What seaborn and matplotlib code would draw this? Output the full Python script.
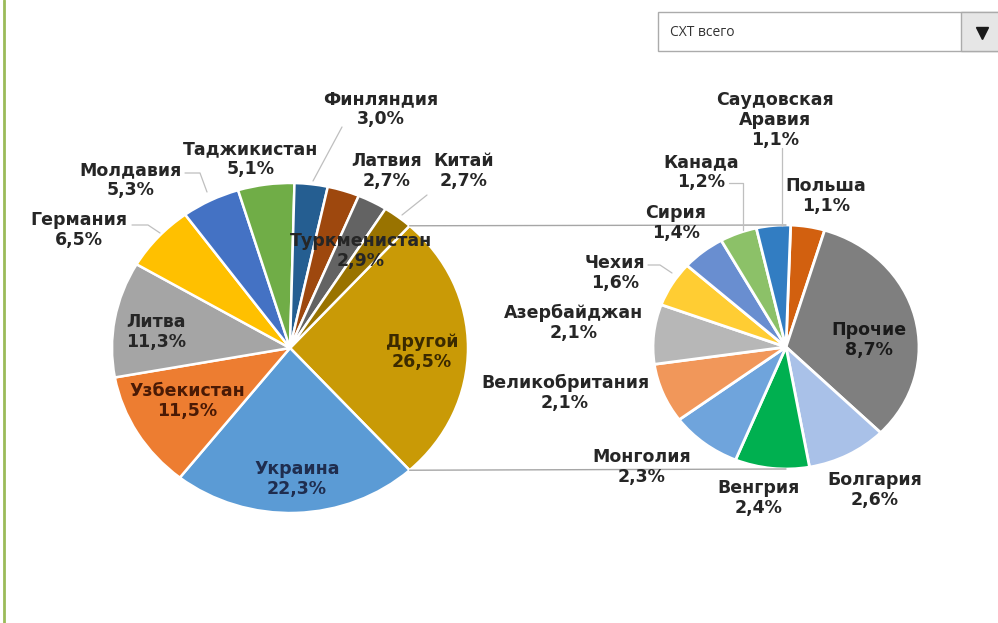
import matplotlib
matplotlib.use("Agg")
import matplotlib.pyplot as plt
import numpy as np
import seaborn as sns

# data
main_labels = ["Другой", "Украина", "Узбекистан", "Литва", "Германия", "Молдавия",
               "Таджикистан", "Финляндия", "Туркменистан", "Латвия", "Китай"]
main_values = [26.5, 22.3, 11.5, 11.3, 6.5, 5.3, 5.1, 3.0, 2.9, 2.7, 2.7]
sub_labels = ["Польша", "Прочие", "Болгария", "Венгрия", "Монголия", "Великобритания",
              "Азербайджан", "Чехия", "Сирия", "Канада", "Саудовская\nАравия"]
sub_values = [1.1, 8.7, 2.6, 2.4, 2.3, 2.1, 2.1, 1.6, 1.4, 1.2, 1.1]
dropdown_text = "СХТ всего"

# styles
main_colors = ["#C99A06", "#5B9BD5", "#ED7D31", "#A5A5A5", "#FFC000", "#4472C4",
               "#70AD47", "#255E91", "#9E480E", "#636363", "#997300"]
sub_colors = ["#D2600F", "#7F7F7F", "#A9C1E8", "#00B050", "#6FA4DC", "#F1975A",
              "#B7B7B7", "#FFCD33", "#698ED0", "#8CC168", "#327DC2"]
main_text_colors = ["#3B2A00", "#1F2D4F", "#4A1A05", "#262626"] + ["#262626"] * 7
sub_text_colors = ["#262626", "#1A1A1A"] + ["#262626"] * 9

# label block centres in pixels
main_label_pos = [(422, 352), (297, 479), (187, 401), (156, 332), (79, 230), (131, 180),
                  (251, 159), (381, 109), (361, 251), (387, 171), (464, 171)]
sub_label_pos = [(826, 196), (869, 340), (875, 490), (759, 498), (642, 467), (565, 393),
                 (574, 323), (615, 273), (676, 223), (701, 172), (775, 120)]
leaders = [[(342, 127), (313, 181)],
           [(185, 173), (200, 173), (207, 192)],
           [(132, 225), (148, 225), (160, 233)],
           [(427, 195), (402, 215)],
           [(729, 183), (743, 183), (743, 230)],
           [(782, 148), (782, 226)],
           [(648, 265), (660, 265), (672, 273)]]

W, H = 998, 623
MAIN = dict(cx=290, cy=348, rx=178, ry=165)
SUB = dict(cx=786, cy=347, rx=133, ry=122)

sns.set_theme(style="white")
plt.rcParams['font.family'] = ['DejaVu Sans']

fig = plt.figure(figsize=(W / 100, H / 100), dpi=100)


def pie_axes(g):
    left = g["cx"] - g["rx"]
    top = g["cy"] - g["ry"]
    return fig.add_axes([left / W, (H - top - 2 * g["ry"]) / H, 2 * g["rx"] / W, 2 * g["ry"] / H])


def fmt(name, v):
    return f"{name}\n{v:.1f}%".replace(".", ",")


ax_main = pie_axes(MAIN)
half = main_values[0] / sum(main_values) * 180
ax_main.pie(main_values, colors=main_colors, startangle=half, counterclock=False,
            wedgeprops=dict(edgecolor="white", linewidth=1.8))
ax_main.set_aspect("auto")
ax_main.set_xlim(-1, 1)
ax_main.set_ylim(-1, 1)

ax_sub = pie_axes(SUB)
ax_sub.pie(sub_values, colors=sub_colors, startangle=88, counterclock=False,
           wedgeprops=dict(edgecolor="white", linewidth=2))
ax_sub.set_aspect("auto")
ax_sub.set_xlim(-1, 1)
ax_sub.set_ylim(-1, 1)

# overlay in pixel coordinates
ov = fig.add_axes([0, 0, 1, 1], zorder=5)
ov.set_xlim(0, W)
ov.set_ylim(H, 0)
ov.axis("off")
ov.patch.set_alpha(0)

# series lines between the pies
h = np.deg2rad(half)
for s in (1, -1):
    x0 = MAIN["cx"] + MAIN["rx"] * np.cos(h)
    y0 = MAIN["cy"] - s * MAIN["ry"] * np.sin(h)
    ov.plot([x0, SUB["cx"]], [y0, SUB["cy"] - s * SUB["ry"]], color="#A6A6A6", lw=1, zorder=1)

for pts in leaders:
    xs, ys = zip(*pts)
    ov.plot(xs, ys, color="#BFBFBF", lw=0.9, zorder=2)

for name, v, (x, y), c in zip(main_labels, main_values, main_label_pos, main_text_colors):
    ov.text(x, y, fmt(name, v), ha="center", va="center", fontsize=12.5,
            fontweight="bold", color=c, linespacing=1.15, zorder=6)
for name, v, (x, y), c in zip(sub_labels, sub_values, sub_label_pos, sub_text_colors):
    ov.text(x, y, fmt(name, v), ha="center", va="center", fontsize=12.5,
            fontweight="bold", color=c, linespacing=1.15, zorder=6)

# dropdown box
ov.add_patch(plt.Rectangle((658, 12), 345, 39, facecolor="white", edgecolor="#ABABAB", lw=1, zorder=3))
ov.add_patch(plt.Rectangle((961, 12), 40, 39, facecolor="#E6E6E6", edgecolor="#ABABAB", lw=1, zorder=3))
ov.text(670, 32, dropdown_text, ha="left", va="center", fontsize=10, color="#333333",
        family=["Open Sans", "DejaVu Sans"], zorder=4)
ov.plot([982], [33], marker="v", color="#1A1A1A", markersize=8, zorder=4)

# left border
ov.plot([4, 4], [0, H], color="#9BBB59", lw=2, zorder=4)

fig.savefig("out.png", dpi=100)
